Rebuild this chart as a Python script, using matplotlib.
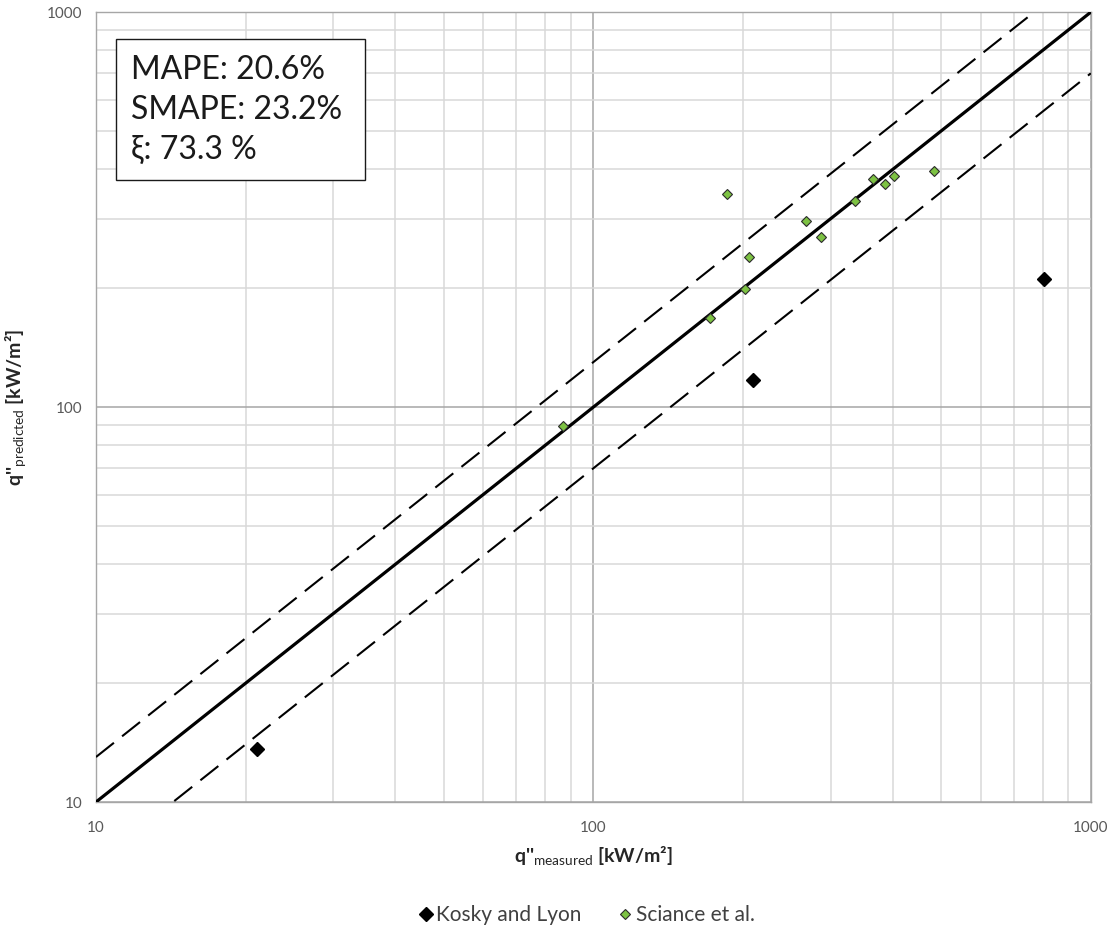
import matplotlib
matplotlib.use("Agg")
import matplotlib.pyplot as plt
from matplotlib.patches import Rectangle
from matplotlib.ticker import LogLocator, NullFormatter
import numpy as np

plt.rcParams['font.family'] = ['Lato', 'DejaVu Sans']
plt.rcParams['mathtext.fontset'] = 'custom'
plt.rcParams['mathtext.rm'] = 'Lato'
plt.rcParams['mathtext.bf'] = 'Lato:bold'

# Kosky and Lyon
kosky_meas = [21.1, 209, 805]
kosky_pred = [13.6, 117, 211]

# Sciance et al.
sciance_meas = [86.9, 171.9, 185.8, 201.8, 205.3, 268, 286.7, 336.2, 365.4, 385.5, 401.8, 483.8]
sciance_pred = [89.6, 168.2, 346, 198.6, 239.9, 296, 269.8, 333, 378.5, 367, 384.7, 395.9]

band = 0.30
stats_lines = ["MAPE: 20.6%", "SMAPE: 23.2%", "ξ: 73.3 %"]

fig = plt.figure(figsize=(11.12, 9.30), dpi=100)
ax = fig.add_axes([0.0863, 0.1376, 0.8947, 0.8494])

ax.set_xscale('log')
ax.set_yscale('log')
ax.set_xlim(10, 1000)
ax.set_ylim(10, 1000)

# grid
ax.xaxis.set_minor_locator(LogLocator(base=10, subs=np.arange(2, 10)))
ax.yaxis.set_minor_locator(LogLocator(base=10, subs=np.arange(2, 10)))
ax.xaxis.set_minor_formatter(NullFormatter())
ax.yaxis.set_minor_formatter(NullFormatter())
ax.grid(which='minor', color='#d9d9d9', linewidth=1.1)
ax.grid(which='major', color='#a6a6a6', linewidth=1.1)
ax.set_axisbelow(True)
ax.tick_params(which='both', length=0, labelsize=11, colors='#595959')
ax.tick_params(axis='x', pad=14)
ax.tick_params(axis='y', pad=10)
ax.set_xticks([10, 100, 1000])
ax.set_xticklabels(['10', '100', '1000'])
ax.set_yticks([10, 100, 1000])
ax.set_yticklabels(['10', '100', '1000'])
for s in ax.spines.values():
    s.set_color('#a6a6a6')
    s.set_linewidth(1.0)

# reference lines
xl = np.array([10, 1000])
ax.plot(xl, xl, color='black', linewidth=2.3, zorder=3)
ax.plot(xl, xl * (1 + band), color='black', linewidth=1.5, dashes=(11, 5), zorder=3)
ax.plot(xl, xl * (1 - band), color='black', linewidth=1.5, dashes=(11, 5), zorder=3)

ax.plot(kosky_meas, kosky_pred, linestyle='none', marker='D', markersize=7,
        color='black', label='Kosky and Lyon', zorder=4)
ax.plot(sciance_meas, sciance_pred, linestyle='none', marker='D', markersize=5.5,
        markerfacecolor='#7dc243', markeredgecolor='#2b2b2b', markeredgewidth=0.8,
        label='Sciance et al.', zorder=4)

# stats box
ax.add_patch(Rectangle((0.0201, 0.7873), 0.2503, 0.1785, transform=ax.transAxes,
                       facecolor='white', edgecolor='#1a1a1a', linewidth=1.0, zorder=5))
for line, yb in zip(stats_lines, [0.9152, 0.8646, 0.8139]):
    ax.text(0.0352, yb, line, transform=ax.transAxes, fontsize=23,
            va='baseline', ha='left', color='#1a1a1a', zorder=6)

ax.set_xlabel(r"q''$_{\mathrm{measured}}$ [kW/m²]", fontsize=14, fontweight='bold',
              color='#262626', labelpad=7)
ax.set_ylabel(r"q''$_{\mathrm{predicted}}$ [kW/m²]", fontsize=14, fontweight='bold',
              color='#262626', labelpad=13)

leg = fig.legend(loc='center', bbox_to_anchor=(0.528, 0.016), ncol=2, frameon=False,
                 fontsize=15, handlelength=0.6, handletextpad=0.2, columnspacing=1.8)
for t in leg.get_texts():
    t.set_color('#404040')

fig.savefig('out.png', dpi=100)
